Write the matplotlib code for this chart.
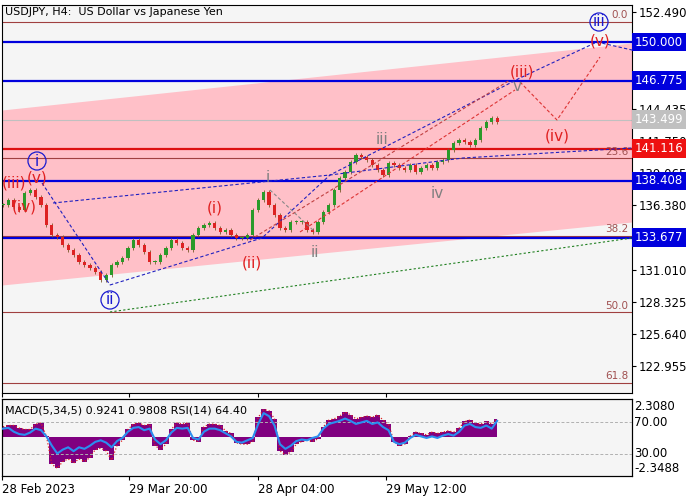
import matplotlib
matplotlib.use("Agg")
import matplotlib.pyplot as plt
import numpy as np

closes = [136.41,136.82,136.24,135.99,137.41,137.66,137.07,136.41,134.74,133.90,133.74,133.07,132.65,132.24,131.65,131.40,131.15,130.82,130.15,130.57,
          131.40,131.65,131.99,132.82,133.49,133.07,132.49,131.65,131.65,132.24,132.82,133.49,133.24,132.82,132.65,133.90,134.49,134.74,134.90,134.49,
          134.15,134.32,133.90,133.65,133.65,133.90,135.99,136.82,137.49,136.41,135.57,134.49,134.32,134.99,134.99,134.99,134.32,134.15,134.99,135.82,
          136.41,137.66,138.66,139.16,139.99,140.58,140.41,140.16,139.74,139.32,138.91,139.91,139.74,139.49,139.32,139.74,139.16,139.49,139.74,139.49,
          139.99,140.16,140.99,141.58,141.83,141.66,141.41,141.83,142.83,143.33,143.66,143.33]
macd_hist = [0.8,0.9,0.9,0.7,0.6,0.6,1.0,1.1,0.1,-2.0,-2.3,-1.8,-1.6,-1.9,-1.6,-1.8,-1.5,-0.9,-0.8,-1.0,-1.7,-0.6,-0.2,0.6,1.0,1.1,0.9,1.0,-0.6,-0.9,
             -0.5,0.6,1.1,1.0,1.1,-0.2,-0.3,0.8,1.0,1.0,0.9,0.5,0.3,-0.4,-0.5,-0.5,-0.3,1.5,2.1,2.0,1.4,-1.0,-1.3,-1.1,-0.5,-0.3,-0.2,-0.3,-0.1,0.8,
             1.3,1.4,1.6,1.9,1.7,1.4,1.5,1.6,1.5,1.7,1.3,1.0,-0.3,-0.6,-0.5,0.1,0.4,0.3,0.2,0.4,0.3,0.4,0.5,0.4,0.7,1.2,1.3,1.1,1.0,1.2,1.0,1.4,1.3]
rsi = [62,63,58,55,54,57,62,60,52,40,30,35,38,33,38,36,40,45,47,44,38,46,50,58,63,64,60,62,48,42,
       47,57,63,62,63,50,48,58,62,62,60,56,52,45,44,47,50,68,82,78,66,42,36,40,46,48,47,50,52,62,
       68,70,72,75,72,68,70,72,68,70,64,60,45,42,44,50,54,52,50,52,50,53,55,53,58,66,68,64,63,66,62,72,66]
price_ticks = [152.490, 144.435, 141.750, 139.065, 136.380, 131.010, 128.325, 125.640, 122.955]
levels_blue = [150.000, 146.775, 138.408, 133.677]
level_red = 141.116
current_price = 143.499
fib_levels = [151.70, 140.30, 133.80, 127.45, 121.60]
fib_names = ["0.0", "23.6", "38.2", "50.0", "61.8"]
date_labels = ["28 Feb 2023", "29 Mar 20:00", "28 Apr 04:00", "29 May 12:00"]
date_px = [2, 129, 258, 386]
title = "USDJPY, H4:  US Dollar vs Japanese Yen"

n = min(len(closes), len(macd_hist), len(rsi))
closes, macd_hist, rsi = closes[:n], macd_hist[:n], rsi[:n]

def X(px): return (px - 3) / 5.43
def Y(py): return 150 - (py - 42) * 0.0834

fig = plt.figure(figsize=(7, 5), dpi=100)
fig.patch.set_facecolor("white")
bg = "#f5f5f5"
ax = fig.add_axes([2/700, 1-393/500, 630/700, 388/500])
ax.set_facecolor(bg)
ax.set_xlim(X(2), X(632)); ax.set_ylim(Y(393), Y(5))

xs = np.linspace(X(2), X(632), 50)
up = np.linspace(Y(110), Y(43), 50)
lo = np.linspace(Y(285), Y(222), 50)
ax.fill_between(xs, lo, up, color="#ffc0c8", lw=0, zorder=0)

for lv in levels_blue:
    ax.axhline(lv, color="#0000dd", lw=1.6, zorder=2)
ax.axhline(level_red, color="#dd1111", lw=1.6, zorder=2)
ax.axhline(current_price, color="#c0c0c0", lw=0.8, zorder=1)
for lv, nm in zip(fib_levels, fib_names):
    ax.axhline(lv, color="#a04040", lw=0.8, zorder=1)
    ax.text(X(628), lv + 0.15, nm, color="#a05050", fontsize=7.5, ha="right", va="bottom")

idx = np.arange(n)
opens = [closes[0]] + closes[:-1]
for i in idx:
    o, c = opens[i], closes[i]
    col = "#2a9a2a" if c >= o else "#dd2222"
    h = max(abs(c - o), 0.08)
    ax.bar(i, h, bottom=min(o, c), width=0.6, color=col, zorder=3, lw=0)
    ax.vlines(i, min(o, c) - 0.2, max(o, c) + 0.2, color="#7a5a2a", lw=0.6, zorder=2.5)

def dline(pts, color, ls=(0, (3, 2)), lw=0.8):
    ax.plot([X(p[0]) for p in pts], [Y(p[1]) for p in pts], color=color, ls=ls, lw=lw, zorder=4)

dline([(42, 183), (110, 285)], "#2020c0")
dline([(53, 203), (330, 175), (463, 158), (632, 148)], "#2020c0")
dline([(110, 285), (262, 238), (330, 175), (520, 78), (597, 42), (632, 50)], "#2020c0")
dline([(520, 82), (557, 120), (600, 57)], "#dd3333")
dline([(300, 232), (515, 90)], "#dd3333")
dline([(250, 240), (510, 80)], "#c04040")
dline([(270, 190), (315, 232)], "#888888")
dline([(110, 312), (632, 238)], "#208020", ls=(0, (2, 2)))

def lab(px, py, s, color, circ=False, fs=11):
    kw = dict(color=color, fontsize=fs, ha="center", va="center", zorder=6)
    if circ:
        kw["bbox"] = dict(boxstyle="circle,pad=0.1", fc="none", ec=color, lw=0.9)
    ax.text(X(px), Y(py), s, **kw)

blue = "#1a1ad0"; red = "#e02020"; grey = "#808080"
lab(37, 161, "i", blue, True); lab(110, 300, "ii", blue, True); lab(599, 22, "iii", blue, True)
for px, py, s in [(14, 183, "(iii)"), (37, 178, "(v)"), (24, 207, "(iv)"), (215, 208, "(i)"),
                  (252, 263, "(ii)"), (522, 72, "(iii)"), (557, 136, "(iv)"), (600, 41, "(v)")]:
    lab(px, py, s, red)
for px, py, s in [(268, 177, "i"), (315, 253, "ii"), (382, 140, "iii"), (437, 193, "iv"), (517, 87, "v")]:
    lab(px, py, s, grey)

ax.text(X(5), Y(12), title, fontsize=8, ha="left", va="center")

ax.yaxis.tick_right()
ax.set_yticks(price_ticks)
ax.set_yticklabels([f"{v:.3f}" for v in price_ticks], fontsize=8.5)
ax.tick_params(axis="y", length=3, pad=2)
ax.set_xticks([X(p) for p in date_px]); ax.set_xticklabels([])
ax.tick_params(axis="x", length=3)
def box(v, fc, tc="white"):
    ax.text(1.004, (v - Y(393)) / (Y(5) - Y(393)), f"{v:.3f}", transform=ax.transAxes, fontsize=8.5,
            color=tc, va="center", ha="left", bbox=dict(boxstyle="square,pad=0.25", fc=fc, ec="none"), zorder=7)
for lv in levels_blue: box(lv, "#0000dd")
box(level_red, "#ee1111"); box(current_price, "#c0c0c0")

ax2 = fig.add_axes([2/700, 1-476/500, 630/700, 77/500])
ax2.set_facecolor(bg)
ax2.set_xlim(X(2), X(632)); ax2.set_ylim(-2.88, 2.88)
ax2.fill_between(idx, 0, macd_hist, color="#800080", step="mid", lw=0, zorder=2)
ax2.plot(idx, macd_hist, color="#dd2222", ls=":", lw=0.9, zorder=3)
ax3 = ax2.twinx()
ax3.set_ylim(50.6 - 2.88 * 17.2, 50.6 + 2.88 * 17.2)
ax3.plot(idx, rsi, color="#2a8ff0", lw=1.5, zorder=4)
for v in (70, 30):
    ax3.axhline(v, color="#b0b0b0", ls=(0, (3, 2)), lw=0.7)
ax2.set_yticks([]); ax3.set_yticks([])
for v, s in [(2.308, "2.3080"), (-2.3488, "-2.3488")]:
    ax2.text(1.003, (v + 2.88) / 5.76, s, transform=ax2.transAxes, fontsize=8.5, va="center")
lo3, hi3 = ax3.get_ylim()
for v, s in [(70, "70.00"), (30, "30.00")]:
    ax2.text(1.003, (v - lo3) / (hi3 - lo3), s, transform=ax2.transAxes, fontsize=8.5, va="center")
ax2.text(X(5), 2.0, "MACD(5,34,5) 0.9241 0.9808 RSI(14) 64.40", fontsize=8, ha="left", va="center", zorder=6)
ax2.set_xticks([X(p) for p in date_px])
ax2.set_xticklabels(date_labels, fontsize=8.5, ha="left")
ax2.tick_params(axis="x", length=3, pad=2)

fig.savefig("out.png", dpi=100, facecolor="white")
